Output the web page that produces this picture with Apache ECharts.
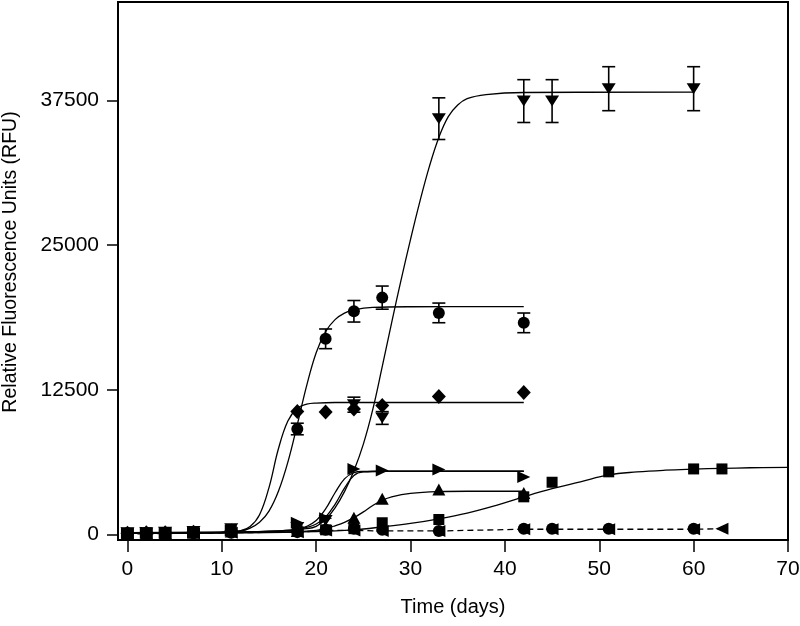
<!DOCTYPE html>
<html><head><meta charset="utf-8">
<script src="https://cdn.jsdelivr.net/npm/echarts@6/dist/echarts.min.js"></script>
<style>html,body{margin:0;padding:0;background:#fff}#c{width:800px;height:626px}</style>
</head><body><div id="c"></div>
<script>
// ---- axis ticks ----
const xTicks = [0, 10, 20, 30, 40, 50, 60, 70];
const yTicks = [0, 12500, 25000, 37500];

// ---- measured points ----
const downX = [0, 2, 4, 7, 11, 18, 21, 24, 27, 33, 42, 45, 51, 60];
const downY = [150, 150, 200, 250, 500, 600, 1200, 11210, 10060, 35920, 37440, 37440, 38510, 38510];
const downErr = [0, 0, 0, 0, 0, 0, 0, 650, 550, 1800, 1850, 1850, 1900, 1900];

const circX = [0, 2, 4, 7, 11, 18, 21, 24, 27, 33, 42];
const circY = [100, 100, 150, 150, 250, 9110, 16900, 19280, 20460, 19140, 18280];
const circErr = [0, 0, 0, 0, 0, 500, 850, 930, 1000, 850, 850];

const diaX = [0, 2, 4, 7, 11, 18, 21, 24, 27, 33, 42];
const diaY = [100, 150, 150, 200, 300, 10630, 10580, 10840, 11150, 11920, 12270];

const rightX = [0, 2, 4, 7, 11, 18, 21, 24, 27, 33, 42];
const rightY = [100, 150, 150, 200, 350, 1000, 1400, 5660, 5520, 5600, 4970];

const upX = [0, 2, 4, 7, 11, 18, 21, 24, 27, 33, 42];
const upY = [50, 100, 100, 150, 250, 300, 600, 1440, 3080, 3880, 3590];

const sqX = [0, 2, 4, 7, 11, 18, 21, 24, 27, 33, 42, 45, 51, 60, 63];
const sqY = [100, 150, 150, 250, 300, 300, 400, 500, 1010, 1290, 3250, 4510, 5410, 5660, 5660];

const lowCircX = [0, 2, 4, 7, 11, 18, 21, 24, 27, 33, 42, 45, 51, 60];
const lowCircY = [50, 50, 80, 100, 150, 200, 400, 500, 400, 300, 490, 490, 490, 490];

const leftX = [0, 2, 4, 7, 11, 18, 21, 24, 27, 33, 42, 45, 51, 60, 63];
const leftY = [50, 50, 80, 100, 150, 200, 350, 350, 300, 300, 450, 450, 450, 450, 490];

// ---- fitted curves ----
const fitDownX = [0, 10, 16, 19, 20, 21, 22, 23, 24, 25, 26, 27, 28, 29, 30, 31, 32, 33, 34, 35, 36, 38, 42, 60];
const fitDownY = [150, 200, 300, 500, 700, 1300, 2300, 3700, 5500, 7800, 10800, 14500, 18300, 22000, 25500, 28800, 31800, 34300, 36100, 37100, 37650, 38000, 38180, 38220];

const fitCircX = [0, 10, 12, 13, 14, 15, 16, 17, 18, 19, 20, 21, 22, 23, 24, 26, 30, 42];
const fitCircY = [150, 200, 300, 550, 1050, 2020, 3730, 6250, 9490, 12880, 15700, 17520, 18560, 19120, 19400, 19610, 19670, 19680];

const fitDiaX = [0, 10, 12, 13, 14, 15, 16, 17, 18, 19, 20, 22, 42];
const fitDiaY = [150, 180, 320, 680, 1700, 4050, 7400, 9800, 10900, 11250, 11350, 11400, 11400];

const fitRightAX = [0, 12, 16, 18, 19, 20, 21, 22, 23, 24, 25, 27, 42];
const fitRightAY = [150, 200, 300, 450, 700, 1200, 2200, 3600, 4800, 5350, 5440, 5460, 5460];
const fitRightBX = [0, 12, 16, 18, 19, 20, 21, 22, 23, 24, 25, 27, 42];
const fitRightBY = [100, 150, 250, 400, 600, 900, 1500, 2600, 4000, 5100, 5400, 5460, 5460];

const fitUpX = [0, 12, 18, 20, 21, 22, 23, 24, 25, 26, 27, 28, 30, 33, 36, 42];
const fitUpY = [100, 150, 250, 350, 500, 750, 1050, 1450, 1950, 2500, 2950, 3250, 3550, 3700, 3730, 3730];

const fitSqX = [0, 12, 20, 24, 27, 30, 33, 36, 39, 42, 45, 48, 51, 54, 57, 60, 63, 66, 70];
const fitSqY = [100, 150, 250, 400, 650, 950, 1350, 1850, 2500, 3250, 3950, 4550, 5150, 5400, 5550, 5640, 5710, 5760, 5800];

// ---- helpers ----
const zip = (xs, ys) => xs.map((x, i) => [x, ys[i]]);
const zip3 = (xs, ys, es) => xs.map((x, i) => [x, ys[i], es[i]]).filter(d => d[2] > 0);
const FONT = "'Liberation Sans', Arial, sans-serif";

const SYM_DOWN = 'path://M0,0 L10,0 L5,8 Z';
const SYM_RIGHT = 'path://M0,0 L10,5 L0,10 Z';
const SYM_LEFT = 'path://M10,0 L10,10 L0,5 Z';

function fitLine(xs, ys) {
  return {
    type: 'line', data: zip(xs, ys), smooth: 0.4, showSymbol: false, silent: true,
    lineStyle: { color: '#000', width: 1.3 }, z: 2
  };
}
function markers(xs, ys, symbol, size) {
  return {
    type: 'scatter', data: zip(xs, ys), symbol: symbol, symbolSize: size,
    itemStyle: { color: '#000', opacity: 1 }, z: 5, silent: true
  };
}
function errBars(xs, ys, es) {
  return {
    type: 'custom', data: zip3(xs, ys, es), z: 4, silent: true,
    encode: { x: 0, y: 1 },
    renderItem: function (params, api) {
      const x = api.value(0), y = api.value(1), e = api.value(2);
      const t = api.coord([x, y + e]), b = api.coord([x, y - e]);
      const w = 6.5;
      const st = { stroke: '#000', lineWidth: 1.6 };
      return {
        type: 'group', children: [
          { type: 'line', shape: { x1: t[0], y1: t[1], x2: b[0], y2: b[1] }, style: st },
          { type: 'line', shape: { x1: t[0] - w, y1: t[1], x2: t[0] + w, y2: t[1] }, style: st },
          { type: 'line', shape: { x1: b[0] - w, y1: b[1], x2: b[0] + w, y2: b[1] }, style: st }
        ]
      };
    }
  };
}

const chart = echarts.init(document.getElementById('c'), null, { renderer: 'canvas' });
chart.setOption({
  animation: false,
  backgroundColor: '#fff',
  grid: { left: 118, right: 12, top: 2, bottom: 86, containLabel: false, outerBoundsMode: 'none', show: true, borderColor: '#000', borderWidth: 2, backgroundColor: 'transparent' },
  xAxis: {
    type: 'value', min: -1, max: 70,
    name: 'Time (days)', nameLocation: 'middle', nameGap: 57,
    nameTextStyle: { fontFamily: FONT, fontSize: 20, color: '#000' },
    axisLine: { show: true, onZero: false, lineStyle: { color: '#000', width: 2 } },
    axisTick: { show: true, inside: false, length: 12, lineStyle: { color: '#000', width: 1.5 }, customValues: xTicks },
    axisLabel: { fontFamily: FONT, fontSize: 21, color: '#000', margin: 19, customValues: xTicks, formatter: v => String(v) },
    splitLine: { show: false }
  },
  yAxis: {
    type: 'value', min: -480, max: 46000,
    name: 'Relative Fluorescence Units (RFU)', nameLocation: 'middle', nameGap: 97,
    nameTextStyle: { fontFamily: FONT, fontSize: 19.5, color: '#000', padding: [0, 0, 0, 18] },
    axisLine: { show: true, onZero: false, lineStyle: { color: '#000', width: 2 } },
    axisTick: { show: true, inside: false, length: 11, lineStyle: { color: '#000', width: 1.5 }, customValues: yTicks },
    axisLabel: { fontFamily: FONT, fontSize: 21, color: '#000', margin: 19, customValues: yTicks, formatter: v => String(v) },
    splitLine: { show: false }
  },
  series: [
    fitLine(fitDownX, fitDownY),
    fitLine(fitCircX, fitCircY),
    fitLine(fitDiaX, fitDiaY),
    fitLine(fitRightAX, fitRightAY),
    fitLine(fitRightBX, fitRightBY),
    fitLine(fitUpX, fitUpY),
    fitLine(fitSqX, fitSqY),
    {
      type: 'line', data: zip(leftX, leftY), showSymbol: false, silent: true, z: 2,
      lineStyle: { color: '#000', width: 1.3, type: [6, 4] }
    },
    errBars(downX, downY, downErr),
    errBars(circX, circY, circErr),
    markers(leftX, leftY, SYM_LEFT, [13, 12]),
    markers(lowCircX, lowCircY, 'circle', 12),
    markers(sqX, sqY, 'rect', 11),
    markers(upX, upY, 'triangle', [13, 12]),
    markers(rightX, rightY, SYM_RIGHT, [13, 12]),
    markers(diaX, diaY, 'diamond', [14, 15]),
    markers(circX, circY, 'circle', 12),
    markers(downX, downY, SYM_DOWN, [14, 11])
  ]
});
</script>
</body></html>
